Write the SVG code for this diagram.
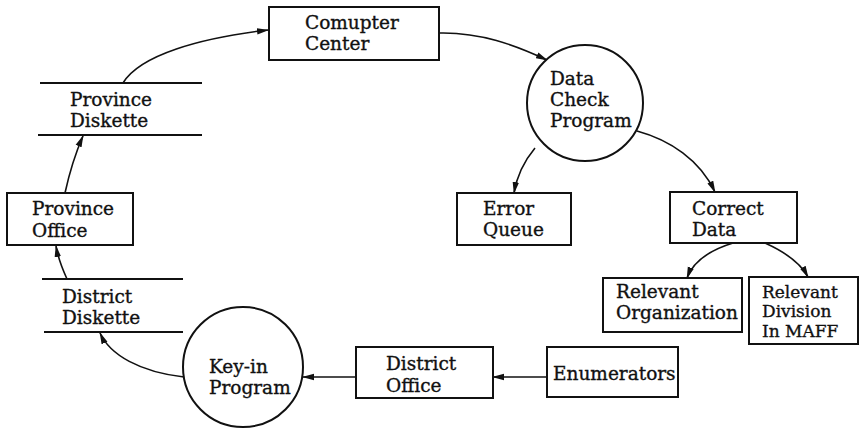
<svg xmlns="http://www.w3.org/2000/svg" width="862" height="435" viewBox="0 0 862 435">
<style>
.b{fill:#fff;stroke:#111;stroke-width:2}
.c{fill:#fff;stroke:#111;stroke-width:2}
.s{stroke:#111;stroke-width:2}
.e{fill:none;stroke:#111;stroke-width:1.6}
text{font-family:"DejaVu Serif","Liberation Serif",serif;font-size:18.5px;fill:#111;stroke:#111;stroke-width:0.35}
.sm{font-size:17px}
</style>
<defs>
<marker id="a" viewBox="0 0 12 8" refX="11" refY="4" markerWidth="12" markerHeight="8" markerUnits="userSpaceOnUse" orient="auto">
<path d="M0,0.8 L12,4 L0,7.2 z" fill="#111"/>
</marker>
</defs>
<g id="connectors">
<path class="e" d="M123,83 C140,55 200,38 268,30" marker-end="url(#a)"/>
<path class="e" d="M439,33 C480,32 515,45 547,60" marker-end="url(#a)"/>
<path class="e" d="M535,148 C525,160 517,175 514,193" marker-end="url(#a)"/>
<path class="e" d="M637,131 C670,140 700,160 715,192" marker-end="url(#a)"/>
<path class="e" d="M733,243 C710,250 693,262 687,278" marker-end="url(#a)"/>
<path class="e" d="M765,243 C785,252 800,262 808,277" marker-end="url(#a)"/>
<path class="e" d="M547,377 L493,377" marker-end="url(#a)"/>
<path class="e" d="M356,377 L303,377" marker-end="url(#a)"/>
<path class="e" d="M184,377 C140,372 110,355 100,333" marker-end="url(#a)"/>
<path class="e" d="M67,279 C62,268 58,258 56,246" marker-end="url(#a)"/>
<path class="e" d="M65,193 C70,170 76,152 83,136" marker-end="url(#a)"/>
</g>
<g id="computer-center">
<rect class="b" x="269" y="7" width="170" height="53"/>
<text x="305" y="29">Comupter</text>
<text x="305" y="50">Center</text>
</g>
<g id="data-check-program">
<circle class="c" cx="585" cy="103" r="58"/>
<text x="550" y="85">Data</text>
<text x="550" y="106">Check</text>
<text x="550" y="127">Program</text>
</g>
<g id="province-diskette">
<line class="s" x1="40" y1="83" x2="202" y2="83"/>
<line class="s" x1="38" y1="135" x2="202" y2="135"/>
<text x="70" y="106">Province</text>
<text x="70" y="127">Diskette</text>
</g>
<g id="province-office">
<rect class="b" x="7" y="193" width="126" height="52"/>
<text x="32" y="215">Province</text>
<text x="32" y="237">Office</text>
</g>
<g id="district-diskette">
<line class="s" x1="42" y1="279" x2="183" y2="279"/>
<line class="s" x1="44" y1="332" x2="183" y2="332"/>
<text x="62" y="303">District</text>
<text x="62" y="324">Diskette</text>
</g>
<g id="key-in-program">
<circle class="c" cx="243" cy="367" r="60"/>
<text x="209" y="373">Key-in</text>
<text x="209" y="394">Program</text>
</g>
<g id="district-office">
<rect class="b" x="356" y="347" width="137" height="51"/>
<text x="386" y="370">District</text>
<text x="386" y="392">Office</text>
</g>
<g id="enumerators">
<rect class="b" x="547" y="347" width="131" height="50"/>
<text x="553" y="380">Enumerators</text>
</g>
<g id="error-queue">
<rect class="b" x="457" y="193" width="114" height="52"/>
<text x="483" y="215">Error</text>
<text x="483" y="236">Queue</text>
</g>
<g id="correct-data">
<rect class="b" x="670" y="192" width="127" height="51"/>
<text x="692" y="215">Correct</text>
<text x="692" y="236">Data</text>
</g>
<g id="relevant-organization">
<rect class="b" x="603" y="278" width="139" height="54"/>
<text x="616" y="298">Relevant</text>
<text x="616" y="319">Organization</text>
</g>
<g id="relevant-division">
<rect class="b" x="749" y="277" width="109" height="67"/>
<text class="sm" x="762" y="298">Relevant</text>
<text class="sm" x="762" y="317">Division</text>
<text class="sm" x="762" y="337">In MAFF</text>
</g>
</svg>
